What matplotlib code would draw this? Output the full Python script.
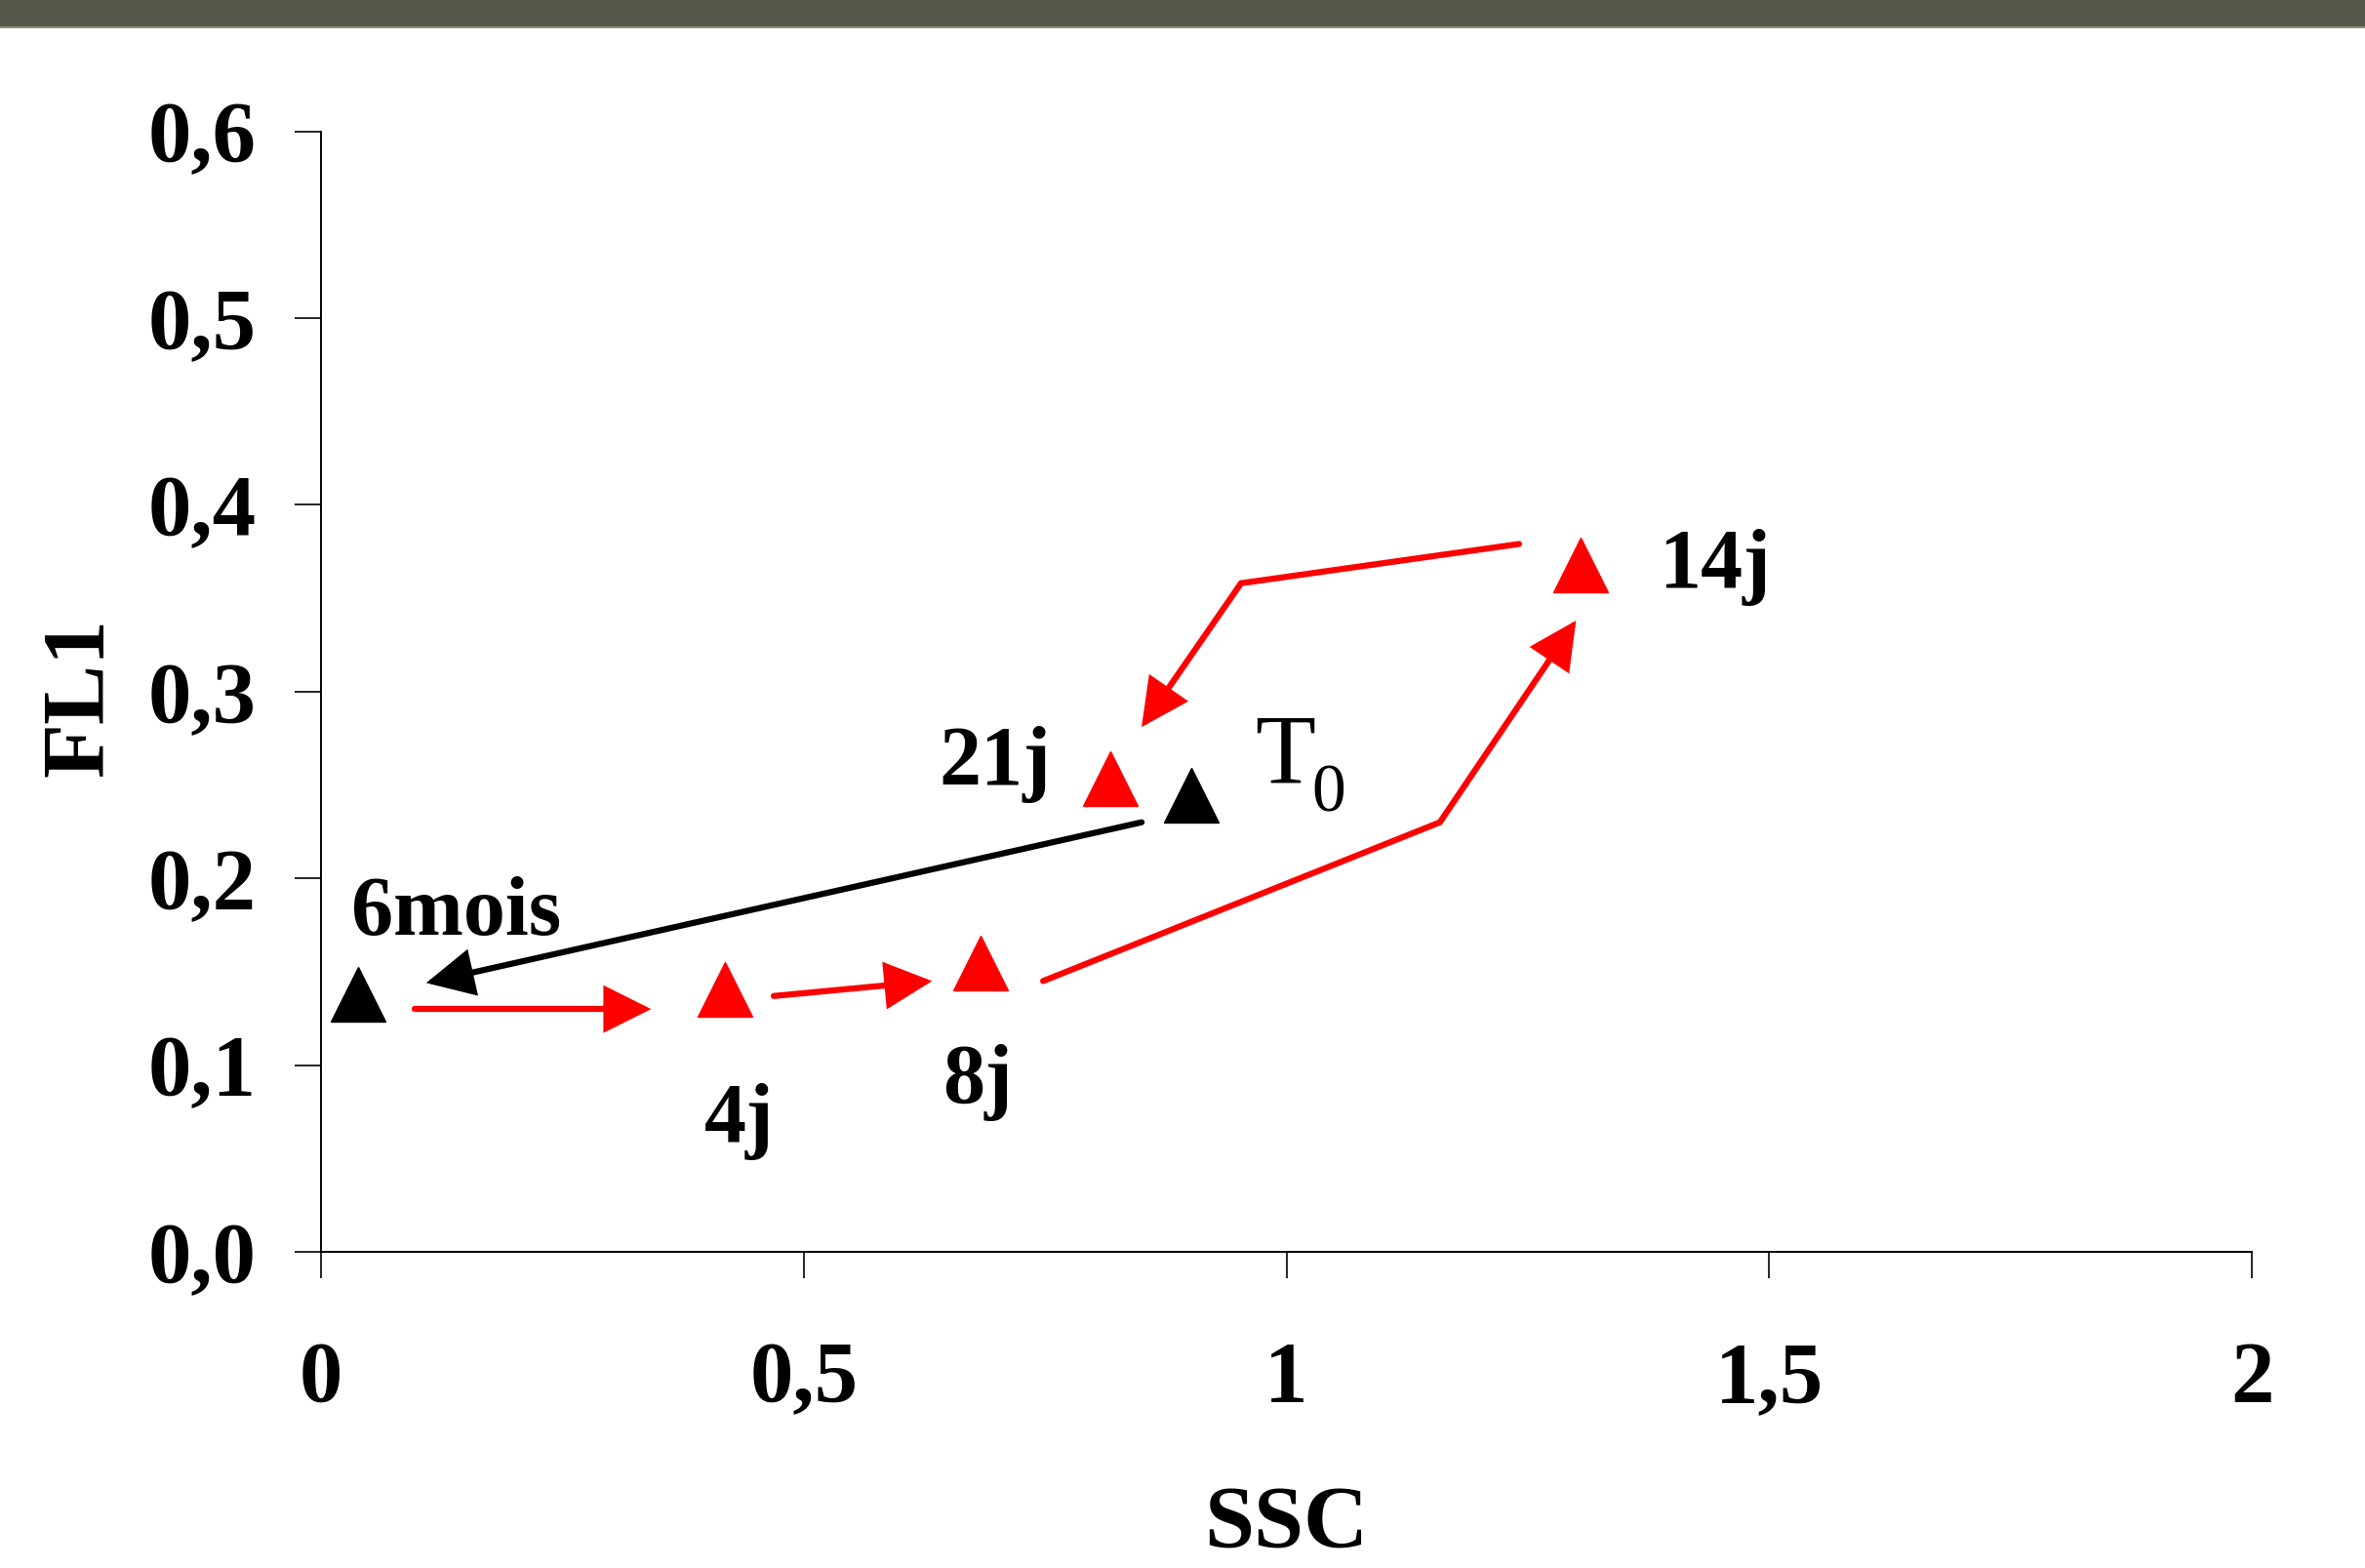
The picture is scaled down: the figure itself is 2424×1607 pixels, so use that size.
import numpy as np
import matplotlib
matplotlib.use("Agg")
import matplotlib.pyplot as plt
from matplotlib.patches import FancyArrowPatch, Rectangle
from matplotlib.path import Path

# ---------------- data ----------------
point_names = ["6mois", "4j", "8j", "14j", "21j", "T0"]
ssc = [0.038, 0.418, 0.683, 1.305, 0.818, 0.901]
fl1 = [0.138, 0.1405, 0.1547, 0.368, 0.2536, 0.2447]
point_colors = ["black", "red", "red", "red", "red", "black"]

xticks = [0, 0.5, 1, 1.5, 2]
xtick_labels = ["0", "0,5", "1", "1,5", "2"]
yticks = [0.0, 0.1, 0.2, 0.3, 0.4, 0.5, 0.6]
ytick_labels = ["0,0", "0,1", "0,2", "0,3", "0,4", "0,5", "0,6"]

# arrow paths (data units)
arrow1_x = [0.097, 0.342]; arrow1_y = [0.130, 0.130]
arrow2_x = [0.469, 0.633]; arrow2_y = [0.137, 0.145]
arrow3_x = [0.748, 1.159, 1.300]; arrow3_y = [0.145, 0.230, 0.338]
arrow4_x = [1.241, 0.953, 0.850]; arrow4_y = [0.379, 0.358, 0.281]
arrow5_x = [0.850, 0.109]; arrow5_y = [0.230, 0.144]
arrow_colors = ["red", "red", "red", "red", "black"]

# ---------------- figure ----------------
W, H = 2424, 1607
fig = plt.figure(figsize=(W / 100, H / 100), dpi=100)
fig.patch.set_facecolor("white")

# top decorative band
fig.patches.append(Rectangle((0, 1 - 27 / H), 1, 27 / H, transform=fig.transFigure,
                             facecolor="#55574a", edgecolor="none", zorder=0))
fig.patches.append(Rectangle((0, 1 - 29 / H), 1, 2 / H, transform=fig.transFigure,
                             facecolor="#8c8e80", edgecolor="none", zorder=0))

left, right = 329 / W, 2308 / W
bottom, top = 1 - 1283 / H, 1 - 134.5 / H
ax = fig.add_axes([left, bottom, right - left, top - bottom])
ax.set_xlim(0, 2)
ax.set_ylim(0, 0.6)

for s in ["top", "right"]:
    ax.spines[s].set_visible(False)
for s in ["left", "bottom"]:
    ax.spines[s].set_linewidth(1.4)
    ax.spines[s].set_color("black")

serif = ["Liberation Serif", "DejaVu Serif"]

ax.set_xticks(xticks)
ax.set_xticklabels(xtick_labels, fontfamily=serif, fontweight="bold", fontsize=64)
ax.set_yticks(yticks)
ax.set_yticklabels(ytick_labels, fontfamily=serif, fontweight="bold", fontsize=64)
ax.tick_params(axis="x", direction="out", length=19.5, width=1.2, pad=46)
ax.tick_params(axis="y", direction="out", length=19.5, width=1.2, pad=28)

ax.set_xlabel("SSC", fontfamily=serif, fontweight="bold", fontsize=66, va="baseline")
ax.xaxis.set_label_coords(0.5, -0.2635)
ax.set_ylabel("FL1", fontfamily=serif, fontweight="bold", fontsize=66, va="baseline")
ax.yaxis.set_label_coords(-0.1132, 0.4946)

# arrows
arrows = [(arrow1_x, arrow1_y), (arrow2_x, arrow2_y), (arrow3_x, arrow3_y),
          (arrow4_x, arrow4_y), (arrow5_x, arrow5_y)]
for (xs, ys), c in zip(arrows, arrow_colors):
    p = FancyArrowPatch(path=Path(np.column_stack([xs, ys])),
                        arrowstyle="-|>,head_length=28,head_width=14",
                        mutation_scale=1, lw=4.5, color=c,
                        capstyle="round", joinstyle="miter", zorder=2)
    ax.add_patch(p)

# markers
for x, y, c in zip(ssc, fl1, point_colors):
    ax.plot([x], [y], marker="^", markersize=41, color=c, linestyle="none",
            zorder=3, clip_on=False)

# point labels
lab_kw = dict(fontfamily=serif, fontweight="bold", fontsize=62, va="baseline", color="black")
ax.text(0.031, 0.1696, "6mois", ha="left", **lab_kw)
ax.text(0.433, 0.059, "4j", ha="center", **lab_kw)
ax.text(0.680, 0.080, "8j", ha="center", **lab_kw)
ax.text(1.386, 0.356, "14j", ha="left", **lab_kw)
ax.text(0.756, 0.2504, "21j", ha="right", **lab_kw)
ax.text(0.967, 0.2512, "T", ha="left", va="baseline", fontfamily=serif, fontsize=73, color="black")
ax.text(1.026, 0.2359, "0", ha="left", va="baseline", fontfamily=serif, fontsize=50, color="black")

fig.savefig("out.png", dpi=100)
